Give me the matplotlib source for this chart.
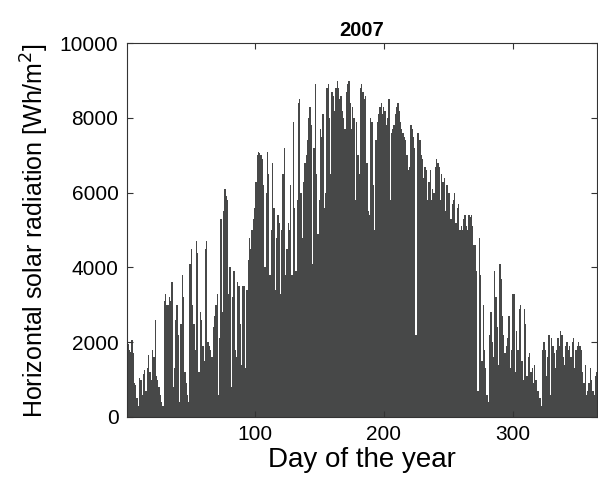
import numpy as np
import matplotlib
matplotlib.use("Agg")
import matplotlib.pyplot as plt

plt.rcParams['font.family'] = ['Liberation Sans', 'DejaVu Sans']

radiation = [
1900,1950,1800,1750,2050,1700,900,850,500,300,
1050,1000,600,1150,1250,700,1300,1650,1200,1000,
1800,1600,2600,1100,1000,800,600,400,300,3100,
3300,3000,3000,3200,3100,3600,800,1300,2600,3000,
2200,400,2500,3800,3200,1200,900,600,400,4100,
4500,3000,2500,1800,4700,4400,1200,2800,2600,1900,
1500,4500,4700,2000,1900,1800,1600,2400,2700,3000,
3300,600,2100,5300,2800,5500,6100,5900,5800,3300,
4000,800,3200,3900,1800,1600,3600,3500,2500,1400,
3500,3500,1300,3400,4200,4800,4500,5000,5300,5600,
6300,7000,7100,7050,7000,6900,6200,4000,6000,7100,
6500,3800,5000,6800,5600,3400,4800,5400,5200,3300,
5000,6500,7200,3800,4500,5200,5000,6200,3800,7900,
5600,3900,5800,8400,8500,6000,4800,6300,6800,7000,
7400,8000,8300,7800,4100,7200,8900,6500,4900,5800,
7700,7500,8100,5600,6000,8800,8900,8000,6500,8700,
8600,8200,8800,9000,8800,8500,8600,8200,8000,7700,
8700,8900,9000,8400,7700,8300,8000,5800,7900,7000,
6500,8800,8900,8700,8500,8600,6800,5500,5400,8000,
7900,6200,5000,7400,7900,8100,8300,8400,8100,8300,
8200,7800,8000,8500,5800,7600,7700,7800,8100,8300,
8400,8200,7900,7700,7600,7500,7400,7000,6600,6700,
7800,7700,7500,7200,2200,7600,7600,7400,7000,6900,
6400,6700,6600,5800,6300,6600,5800,6100,6000,6700,
6900,6800,6700,5800,6500,6300,6400,5500,6200,6000,
6000,5300,5700,5800,6000,5200,5600,5700,5000,5100,
5000,5300,5400,5100,5000,5400,5350,5400,5100,4600,
4600,3900,700,4800,3800,1500,3000,1800,1300,600,
400,2200,2800,2000,1600,3900,3200,2400,1400,4100,
3700,2700,2200,1700,1900,2100,2700,1300,1800,3300,
3300,1200,2300,1800,2900,3000,1500,1000,2900,2500,
1100,1600,1700,1200,1300,900,1400,1000,700,700,
500,300,1800,2000,1800,1100,1600,2200,600,2100,
1900,1700,1300,1800,2100,1900,2300,2200,1600,1400,
1900,2000,1800,1900,1600,2000,2100,1300,1800,1900,
2000,1900,1800,1200,900,1400,600,700,900,1300,
1000,700,600,1100,1200,
]
days = np.arange(1, len(radiation) + 1)

fig = plt.figure(figsize=(5.98, 4.97), dpi=100)
ax = fig.add_axes([0.212, 0.161, 0.786, 0.752])
ax.bar(days, radiation, width=1.0, color='#474848', linewidth=0)
ax.set_xlim(1, 365)
ax.set_ylim(0, 10000)
ax.set_xticks([100, 200, 300])
ax.set_yticks([0, 2000, 4000, 6000, 8000, 10000])
ax.tick_params(direction='in', labelsize=15, top=True, right=True, length=4, color='#333333', pad=6)
for s in ax.spines.values():
    s.set_color('#333333')
    s.set_linewidth(0.8)
ax.set_xlabel('Day of the year', fontsize=20, labelpad=2)
ax.set_ylabel('Horizontal solar radiation [Wh/m$^2$]', fontsize=18, labelpad=6)
ax.set_title('2007', fontsize=14.5, fontweight='bold', pad=5)
fig.savefig('out.png', dpi=100)
